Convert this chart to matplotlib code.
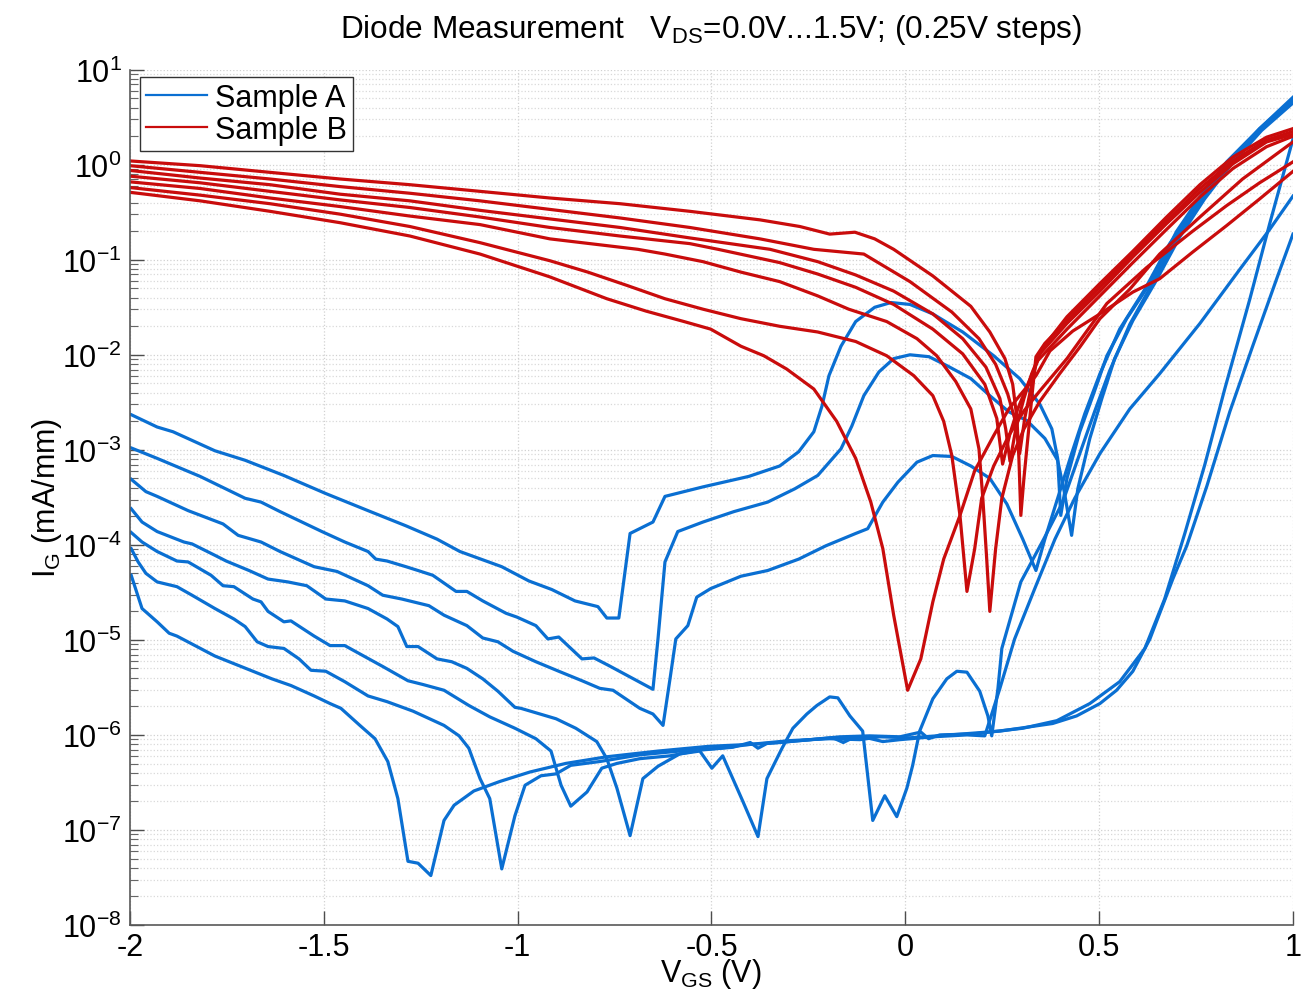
import numpy as np
import matplotlib
matplotlib.use("Agg")
import matplotlib.pyplot as plt
from matplotlib.lines import Line2D
from matplotlib.ticker import LogLocator, NullFormatter

plt.rcParams['font.family'] = ['Liberation Sans', 'DejaVu Sans']
plt.rcParams['mathtext.fontset'] = 'custom'
plt.rcParams['mathtext.rm'] = 'Liberation Sans'
plt.rcParams['mathtext.it'] = 'Liberation Sans:italic'
plt.rcParams['mathtext.bf'] = 'Liberation Sans:bold'
plt.rcParams['axes.unicode_minus'] = False

# each point: (V_GS in V, log10 of I_G in mA/mm)
# Sample A (blue)
a1 = [(-1.997, -2.63), (-1.930, -2.76), (-1.889, -2.81), (-1.781, -3.01), (-1.703, -3.11), (-1.603, -3.27),
      (-1.495, -3.46), (-1.386, -3.64), (-1.288, -3.80), (-1.208, -3.94), (-1.149, -4.07), (-1.041, -4.23),
      (-0.971, -4.38), (-0.912, -4.47), (-0.852, -4.59), (-0.793, -4.65), (-0.770, -4.77), (-0.739, -4.77),
      (-0.710, -3.88), (-0.651, -3.76), (-0.620, -3.49), (-0.522, -3.39), (-0.404, -3.28), (-0.324, -3.17),
      (-0.275, -3.02), (-0.236, -2.81), (-0.215, -2.54), (-0.197, -2.22), (-0.166, -1.91), (-0.128, -1.65),
      (-0.079, -1.50), (-0.037, -1.45), (0.012, -1.47), (0.071, -1.57), (0.148, -1.76), (0.228, -2.01),
      (0.295, -2.25), (0.347, -2.52), (0.378, -2.78), (0.393, -3.09), (0.401, -3.69), (0.417, -3.30),
      (0.450, -2.81), (0.484, -2.43), (0.520, -2.01), (0.571, -1.62), (0.631, -1.25), (0.700, -0.70),
      (0.760, -0.34), (0.829, 0.03), (0.914, 0.38), (1.000, 0.69)]
a2 = [(-1.997, -2.98), (-1.930, -3.09), (-1.819, -3.28), (-1.703, -3.51), (-1.662, -3.55), (-1.613, -3.65),
      (-1.505, -3.86), (-1.446, -3.97), (-1.386, -4.07), (-1.366, -4.15), (-1.337, -4.17), (-1.288, -4.23),
      (-1.257, -4.27), (-1.219, -4.32), (-1.159, -4.49), (-1.131, -4.49), (-1.090, -4.59), (-1.030, -4.72),
      (-1.002, -4.76), (-0.953, -4.85), (-0.922, -4.99), (-0.894, -4.97), (-0.834, -5.20), (-0.803, -5.19),
      (-0.765, -5.27), (-0.651, -5.52), (-0.638, -4.99), (-0.620, -4.18), (-0.587, -3.86), (-0.522, -3.76),
      (-0.442, -3.65), (-0.355, -3.55), (-0.285, -3.41), (-0.226, -3.27), (-0.166, -2.99), (-0.138, -2.75),
      (-0.107, -2.43), (-0.068, -2.18), (-0.030, -2.04), (0.012, -2.00), (0.061, -2.02), (0.110, -2.12),
      (0.169, -2.25), (0.218, -2.43), (0.267, -2.60), (0.313, -2.69), (0.360, -2.88), (0.393, -3.11),
      (0.411, -3.46), (0.429, -3.90), (0.445, -3.41), (0.476, -2.88), (0.507, -2.46), (0.540, -2.04),
      (0.587, -1.64), (0.643, -1.25), (0.708, -0.76), (0.772, -0.36), (0.842, 0.01), (0.919, 0.36), (1.000, 0.65)]
a3 = [(-1.997, -3.31), (-1.959, -3.44), (-1.930, -3.49), (-1.850, -3.64), (-1.760, -3.78), (-1.721, -3.90),
      (-1.662, -3.97), (-1.613, -4.07), (-1.525, -4.23), (-1.466, -4.28), (-1.386, -4.43), (-1.348, -4.53),
      (-1.299, -4.57), (-1.229, -4.64), (-1.190, -4.74), (-1.131, -4.85), (-1.090, -4.98), (-1.051, -5.02),
      (-1.012, -5.12), (-0.953, -5.23), (-0.894, -5.33), (-0.834, -5.43), (-0.788, -5.51), (-0.754, -5.53),
      (-0.685, -5.72), (-0.651, -5.78), (-0.625, -5.90), (-0.607, -5.41), (-0.592, -4.99), (-0.561, -4.85),
      (-0.538, -4.55), (-0.502, -4.46), (-0.424, -4.33), (-0.355, -4.27), (-0.275, -4.15), (-0.205, -4.01),
      (-0.128, -3.88), (-0.097, -3.83), (-0.058, -3.55), (-0.019, -3.34), (0.030, -3.13), (0.071, -3.06),
      (0.120, -3.07), (0.169, -3.17), (0.218, -3.30), (0.262, -3.57), (0.303, -3.94), (0.337, -4.27),
      (0.360, -3.94), (0.393, -3.51), (0.429, -3.04), (0.463, -2.62), (0.502, -2.20), (0.553, -1.73),
      (0.618, -1.31), (0.682, -0.83), (0.760, -0.38), (0.837, 0.03), (0.914, 0.38), (1.000, 0.71)]
a4 = [(-1.997, -3.62), (-1.969, -3.76), (-1.930, -3.86), (-1.861, -3.97), (-1.840, -3.99), (-1.781, -4.11),
      (-1.752, -4.17), (-1.693, -4.27), (-1.644, -4.36), (-1.593, -4.39), (-1.544, -4.43), (-1.495, -4.57),
      (-1.446, -4.59), (-1.386, -4.67), (-1.337, -4.78), (-1.309, -4.86), (-1.286, -5.07), (-1.257, -5.07),
      (-1.208, -5.20), (-1.170, -5.23), (-1.131, -5.30), (-1.090, -5.41), (-1.051, -5.54), (-1.007, -5.71),
      (-0.992, -5.72), (-0.901, -5.83), (-0.850, -5.93), (-0.796, -6.07), (-0.770, -6.25), (-0.744, -6.56),
      (-0.710, -7.06), (-0.677, -6.46), (-0.638, -6.33), (-0.582, -6.20), (-0.530, -6.17), (-0.499, -6.35),
      (-0.471, -6.22), (-0.419, -6.70), (-0.380, -7.07), (-0.357, -6.46), (-0.318, -6.14), (-0.290, -5.93),
      (-0.254, -5.78), (-0.228, -5.69), (-0.195, -5.60), (-0.174, -5.61), (-0.143, -5.80), (-0.110, -5.96),
      (-0.084, -6.90), (-0.053, -6.64), (-0.022, -6.86), (0.004, -6.56), (0.019, -6.32), (0.037, -5.96),
      (0.071, -5.62), (0.107, -5.41), (0.133, -5.33), (0.159, -5.34), (0.192, -5.54), (0.213, -5.80),
      (0.223, -6.01), (0.239, -5.51), (0.249, -5.09), (0.298, -4.39), (0.357, -3.94), (0.406, -3.55),
      (0.450, -3.04), (0.489, -2.59), (0.527, -2.17), (0.579, -1.68), (0.636, -1.26), (0.703, -0.74),
      (0.767, -0.35), (0.837, 0.03), (0.914, 0.37), (1.000, 0.68)]
a5 = [(-1.997, -3.87), (-1.969, -3.97), (-1.930, -4.07), (-1.879, -4.17), (-1.850, -4.18), (-1.791, -4.32),
      (-1.760, -4.43), (-1.732, -4.44), (-1.683, -4.57), (-1.662, -4.60), (-1.644, -4.70), (-1.603, -4.81),
      (-1.585, -4.80), (-1.525, -4.96), (-1.484, -5.06), (-1.446, -5.06), (-1.397, -5.17), (-1.348, -5.28),
      (-1.283, -5.43), (-1.244, -5.47), (-1.190, -5.53), (-1.126, -5.69), (-1.072, -5.81), (-1.007, -5.93),
      (-0.953, -6.04), (-0.914, -6.17), (-0.888, -6.53), (-0.863, -6.75), (-0.821, -6.60), (-0.783, -6.35),
      (-0.744, -6.30), (-0.685, -6.25), (-0.607, -6.22), (-0.530, -6.16), (-0.445, -6.13), (-0.400, -6.08),
      (-0.380, -6.14), (-0.357, -6.09), (-0.272, -6.06), (-0.187, -6.03), (-0.160, -6.08), (-0.130, -6.02),
      (-0.099, -6.03), (-0.058, -6.07), (-0.014, -6.05), (0.071, -6.02), (0.159, -6.00), (0.205, -6.01),
      (0.223, -5.78), (0.244, -5.51), (0.282, -4.99), (0.334, -4.46), (0.386, -3.94), (0.437, -3.51),
      (0.502, -3.04), (0.579, -2.57), (0.656, -2.20), (0.760, -1.67), (0.863, -1.10), (0.940, -0.68),
      (1.000, -0.33)]
a6 = [(-1.997, -4.04), (-1.979, -4.18), (-1.959, -4.30), (-1.930, -4.39), (-1.879, -4.44), (-1.840, -4.53),
      (-1.781, -4.67), (-1.732, -4.78), (-1.703, -4.86), (-1.672, -5.02), (-1.644, -5.07), (-1.603, -5.09),
      (-1.564, -5.20), (-1.533, -5.32), (-1.495, -5.33), (-1.446, -5.44), (-1.386, -5.59), (-1.337, -5.65),
      (-1.270, -5.75), (-1.190, -5.90), (-1.151, -6.01), (-1.126, -6.14), (-1.097, -6.46), (-1.072, -6.67),
      (-1.041, -7.41), (-1.007, -6.85), (-0.981, -6.53), (-0.940, -6.43), (-0.901, -6.41), (-0.863, -6.32),
      (-0.788, -6.28), (-0.685, -6.21), (-0.582, -6.17), (-0.478, -6.14), (-0.401, -6.10), (-0.324, -6.08),
      (-0.246, -6.05), (-0.169, -6.02), (-0.092, -6.01), (-0.014, -6.02), (0.040, -5.97), (0.060, -6.04),
      (0.089, -6.00), (0.174, -5.99), (0.303, -5.93), (0.391, -5.85), (0.476, -5.67), (0.553, -5.44),
      (0.618, -5.09), (0.669, -4.57), (0.721, -3.88), (0.773, -3.15), (0.824, -2.36), (0.889, -1.41),
      (0.940, -0.62), (1.000, 0.27)]
a7 = [(-1.997, -4.32), (-1.969, -4.67), (-1.930, -4.81), (-1.899, -4.93), (-1.879, -4.96), (-1.781, -5.17),
      (-1.683, -5.33), (-1.634, -5.41), (-1.585, -5.48), (-1.525, -5.59), (-1.484, -5.67), (-1.456, -5.72),
      (-1.407, -5.90), (-1.368, -6.04), (-1.335, -6.28), (-1.309, -6.67), (-1.283, -7.33), (-1.257, -7.35),
      (-1.224, -7.48), (-1.190, -6.90), (-1.164, -6.74), (-1.113, -6.59), (-1.046, -6.49), (-0.968, -6.39),
      (-0.876, -6.30), (-0.770, -6.23), (-0.638, -6.17), (-0.507, -6.12), (-0.401, -6.10), (-0.298, -6.06),
      (-0.195, -6.04), (-0.117, -6.05), (-0.066, -6.02), (0.012, -6.03), (0.115, -6.00), (0.244, -5.96),
      (0.329, -5.91), (0.380, -5.88), (0.442, -5.80), (0.502, -5.67), (0.545, -5.53), (0.587, -5.33),
      (0.631, -4.99), (0.690, -4.36), (0.726, -4.01), (0.778, -3.38), (0.837, -2.60), (0.896, -1.91),
      (0.958, -1.20), (1.000, -0.73)]

# Sample B (red)
b1 = [(-2.000, 0.04), (-1.819, -0.01), (-1.639, -0.08), (-1.458, -0.15), (-1.278, -0.21), (-1.097, -0.28),
      (-0.917, -0.35), (-0.736, -0.41), (-0.556, -0.49), (-0.375, -0.58), (-0.272, -0.65), (-0.195, -0.73),
      (-0.130, -0.71), (-0.079, -0.78), (-0.030, -0.89), (0.071, -1.17), (0.169, -1.49), (0.218, -1.76),
      (0.257, -2.04), (0.277, -2.31), (0.288, -2.67), (0.293, -3.09), (0.298, -3.69), (0.306, -3.30),
      (0.316, -2.88), (0.326, -2.46), (0.337, -2.02), (0.360, -1.88), (0.417, -1.64), (0.502, -1.29),
      (0.587, -0.94), (0.674, -0.59), (0.760, -0.25), (0.845, 0.04), (0.932, 0.26), (1.000, 0.35)]
b2 = [(-2.000, -0.01), (-1.819, -0.08), (-1.639, -0.15), (-1.458, -0.23), (-1.278, -0.30), (-1.097, -0.38),
      (-0.917, -0.47), (-0.736, -0.56), (-0.556, -0.66), (-0.375, -0.78), (-0.236, -0.89), (-0.107, -0.94),
      (0.012, -1.23), (0.120, -1.55), (0.190, -1.83), (0.233, -2.10), (0.264, -2.41), (0.282, -2.67),
      (0.295, -3.04), (0.308, -2.67), (0.321, -2.41), (0.337, -2.10), (0.352, -1.94), (0.417, -1.60),
      (0.502, -1.25), (0.587, -0.91), (0.674, -0.55), (0.760, -0.21), (0.845, 0.08), (0.932, 0.29), (1.000, 0.38)]
b3 = [(-2.000, -0.06), (-1.819, -0.14), (-1.639, -0.21), (-1.458, -0.31), (-1.278, -0.38), (-1.097, -0.48),
      (-0.917, -0.57), (-0.736, -0.66), (-0.556, -0.77), (-0.349, -0.89), (-0.226, -1.02), (-0.128, -1.16),
      (-0.030, -1.33), (0.071, -1.57), (0.148, -1.83), (0.208, -2.13), (0.244, -2.46), (0.259, -2.78),
      (0.270, -3.12), (0.285, -2.78), (0.306, -2.46), (0.326, -2.20), (0.347, -1.99), (0.417, -1.67),
      (0.502, -1.33), (0.587, -0.97), (0.674, -0.62), (0.760, -0.29), (0.845, 0.01), (0.932, 0.24), (1.000, 0.32)]
b4 = [(-2.000, -0.12), (-1.819, -0.19), (-1.639, -0.28), (-1.458, -0.37), (-1.278, -0.45), (-1.097, -0.55),
      (-0.917, -0.66), (-0.736, -0.75), (-0.556, -0.83), (-0.483, -0.89), (-0.324, -1.03), (-0.226, -1.15),
      (-0.128, -1.29), (-0.030, -1.47), (0.071, -1.73), (0.148, -1.99), (0.205, -2.31), (0.236, -2.67),
      (0.251, -3.15), (0.270, -2.83), (0.290, -2.57), (0.316, -2.31), (0.342, -2.06), (0.417, -1.73),
      (0.502, -1.38), (0.587, -1.03), (0.674, -0.68), (0.760, -0.34), (0.845, -0.04), (0.932, 0.19), (1.000, 0.30)]
b5 = [(-2.000, -0.18), (-1.819, -0.25), (-1.639, -0.35), (-1.458, -0.44), (-1.278, -0.54), (-1.097, -0.63),
      (-0.917, -0.78), (-0.690, -0.89), (-0.620, -0.94), (-0.522, -1.02), (-0.424, -1.13), (-0.324, -1.23),
      (-0.226, -1.38), (-0.146, -1.52), (-0.048, -1.65), (0.030, -1.83), (0.081, -2.01), (0.130, -2.28),
      (0.169, -2.57), (0.190, -2.99), (0.200, -3.51), (0.210, -4.15), (0.218, -4.70), (0.233, -4.04),
      (0.249, -3.51), (0.277, -3.06), (0.306, -2.78), (0.347, -2.49), (0.398, -2.20), (0.450, -1.92),
      (0.502, -1.62), (0.579, -1.31), (0.656, -0.94), (0.760, -0.55), (0.870, -0.15), (1.000, 0.24)]
b6 = [(-2.000, -0.24), (-1.819, -0.32), (-1.639, -0.41), (-1.458, -0.52), (-1.278, -0.65), (-1.097, -0.82),
      (-0.917, -1.01), (-0.819, -1.13), (-0.718, -1.27), (-0.620, -1.41), (-0.522, -1.52), (-0.424, -1.62),
      (-0.324, -1.70), (-0.226, -1.76), (-0.128, -1.86), (-0.048, -2.01), (0.022, -2.22), (0.071, -2.43),
      (0.099, -2.70), (0.120, -3.06), (0.141, -3.69), (0.159, -4.49), (0.179, -4.04), (0.197, -3.51),
      (0.228, -3.17), (0.267, -2.85), (0.306, -2.59), (0.347, -2.38), (0.417, -2.04), (0.463, -1.78),
      (0.520, -1.46), (0.623, -1.08), (0.741, -0.70), (0.829, -0.43), (0.914, -0.19), (1.000, 0.03)]
b7 = [(-2.000, -0.29), (-1.819, -0.38), (-1.639, -0.49), (-1.458, -0.61), (-1.278, -0.75), (-1.097, -0.94),
      (-0.917, -1.18), (-0.770, -1.41), (-0.669, -1.54), (-0.571, -1.65), (-0.502, -1.73), (-0.424, -1.91),
      (-0.365, -2.01), (-0.306, -2.15), (-0.236, -2.36), (-0.177, -2.70), (-0.128, -3.09), (-0.089, -3.55),
      (-0.058, -4.04), (-0.030, -4.74), (0.006, -5.53), (0.040, -5.20), (0.071, -4.60), (0.099, -4.15),
      (0.141, -3.69), (0.179, -3.22), (0.228, -2.85), (0.267, -2.57), (0.337, -2.22), (0.373, -1.96),
      (0.432, -1.75), (0.502, -1.57), (0.587, -1.34), (0.656, -1.20), (0.741, -0.92), (0.829, -0.64),
      (0.914, -0.36), (1.000, -0.07)]

sample_a = [a1, a2, a3, a4, a5, a6, a7]
sample_b = [b1, b2, b3, b4, b5, b6, b7]
labels = ['Sample A', 'Sample B']
xticks = [-2, -1.5, -1, -0.5, 0, 0.5, 1]
xtick_labels = ['-2', '-1.5', '-1', '-0.5', '0', '0.5', '1']

blue = '#0a6fd2'
red = '#c90c0c'

fig = plt.figure(figsize=(13.08, 10.03), dpi=100)
ax = fig.add_axes([0.0994, 0.0768, 0.8891, 0.8527])

for curve in sample_a:
    arr = np.array(curve)
    ax.plot(arr[:, 0], 10.0 ** arr[:, 1], color=blue, lw=2.3, solid_joinstyle='round')
for curve in sample_b:
    arr = np.array(curve)
    ax.plot(arr[:, 0], 10.0 ** arr[:, 1], color=red, lw=2.3, solid_joinstyle='round')

ax.set_yscale('log')
ax.set_xlim(-2, 1)
ax.set_ylim(1e-8, 10)
ax.set_xticks(xticks)
ax.set_xticklabels(xtick_labels)
ax.yaxis.set_major_locator(LogLocator(base=10, numticks=20))
ax.yaxis.set_minor_locator(LogLocator(base=10, subs=np.arange(2, 10), numticks=100))
ax.yaxis.set_minor_formatter(NullFormatter())

ax.tick_params(which='major', direction='in', labelsize=22, length=10, width=1, color='0.3')
ax.tick_params(which='minor', direction='in', length=6, width=0.8, color='0.4')
ax.tick_params(axis='x', pad=5)
ax.tick_params(axis='y', pad=6)

for s in ['top', 'right']:
    ax.spines[s].set_visible(False)
for s in ['left', 'bottom']:
    ax.spines[s].set_color('0.35')
    ax.spines[s].set_linewidth(1.2)

ax.grid(True, which='major', axis='both', color='0.82', linestyle=':', lw=0.9)
ax.grid(True, which='minor', axis='y', color='0.85', linestyle=':', lw=0.9)
ax.set_axisbelow(True)

handles = [Line2D([], [], color=blue, lw=1.6), Line2D([], [], color=red, lw=1.6)]
leg = ax.legend(handles, labels, loc='upper left', bbox_to_anchor=(0.0086, 0.9915), borderaxespad=0,
                fontsize=22, frameon=True, fancybox=False, edgecolor='0.2', framealpha=1,
                handlelength=2.0, handletextpad=0.25, borderpad=0.2, labelspacing=0.05)
leg.get_frame().set_linewidth(1.0)

fig.text(0.5436, 0.962, r'Diode Measurement   V$_{\mathrm{DS}}$=0.0V...1.5V; (0.25V steps)',
         ha='center', va='baseline', fontsize=22.7)
fig.text(0.5436, 0.021, r'V$_{\mathrm{GS}}$ (V)', ha='center', va='baseline', fontsize=22)
fig.text(0.036, 0.5035, r'I$_{\mathrm{G}}$ (mA/mm)', ha='center', va='center', rotation=90, fontsize=22)

fig.savefig('out.png', dpi=100)
